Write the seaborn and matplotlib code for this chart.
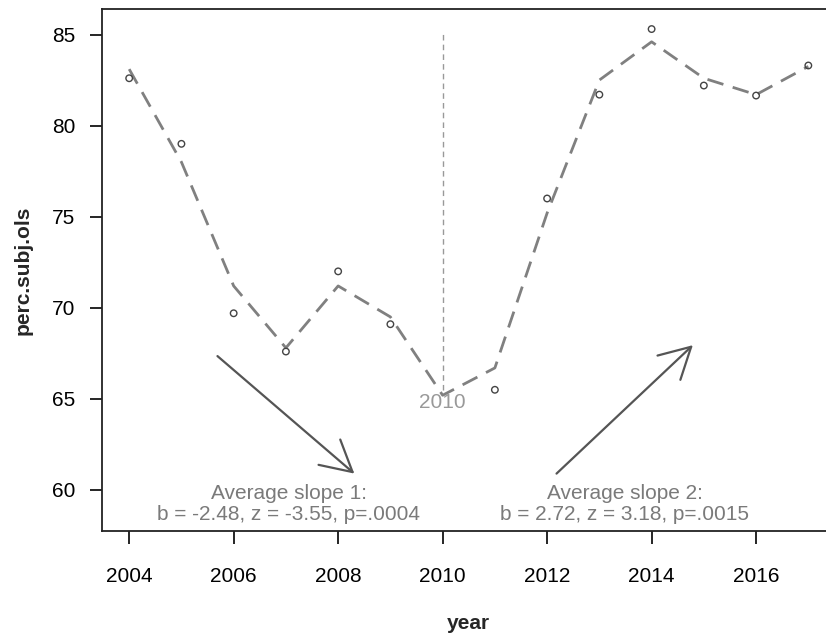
from matplotlib import pyplot as plt
import numpy as np
import pandas as pd
import seaborn as sns

# observed values (no observation drawn at 2010)
obs_year = [2004, 2005, 2006, 2007, 2008, 2009, 2011, 2012, 2013, 2014, 2015, 2016, 2017]
obs_value = [82.6, 79.0, 69.7, 67.6, 72.0, 69.1, 65.5, 76.0, 81.7, 85.3, 82.2, 81.65, 83.3]

# fitted values (dashed line)
fit_year = [2004, 2005, 2006, 2007, 2008, 2009, 2010, 2011, 2012, 2013, 2014, 2015, 2016, 2017]
fit_value = [83.1, 78.0, 71.2, 67.8, 71.2, 69.5, 65.2, 66.7, 75.2, 82.5, 84.6, 82.6, 81.7, 83.25]

x_ticks = [2004, 2006, 2008, 2010, 2012, 2014, 2016]
y_ticks = [60, 65, 70, 75, 80, 85]

break_year = 2010
slope1_text = "Average slope 1:\nb = -2.48, z = -3.55, p=.0004"
slope2_text = "Average slope 2:\nb = 2.72, z = 3.18, p=.0015"

obs = pd.DataFrame({'year': obs_year, 'perc.subj.ols': obs_value})
fit = pd.DataFrame({'year': fit_year, 'fitted': fit_value})

sns.set_style("ticks")
plt.rcParams['font.family'] = ['Liberation Sans', 'DejaVu Sans']

fig = plt.figure(figsize=(8.26, 6.35), dpi=100)
ax = fig.add_axes([0.1235, 0.1638, 0.888, 0.822])

# fitted dashed line
sns.lineplot(data=fit, x='year', y='fitted', ax=ax, color='#808080',
             linewidth=2, dashes=False, linestyle=(0, (6, 3.5)))

# observed points
sns.scatterplot(data=obs, x='year', y='perc.subj.ols', ax=ax, s=22,
                facecolor='none', edgecolor='#444444', linewidth=1, zorder=3)

# break line at 2010
ax.plot([break_year, break_year], [65.5, 85.2], color='#999999',
        linewidth=1, linestyle=(0, (4, 3)))
ax.text(break_year, 64.8, str(break_year), color='#999999', fontsize=15,
        ha='center', va='center')

# arrows
arrow_kw = dict(arrowstyle='->,head_length=1.1,head_width=0.6',
                color='#555555', lw=1.6, mutation_scale=20, shrinkA=0, shrinkB=0)
ax.annotate('', xy=(2008.31, 60.9), xytext=(2005.69, 67.35), arrowprops=arrow_kw)
ax.annotate('', xy=(2014.79, 67.95), xytext=(2012.18, 60.9), arrowprops=arrow_kw)

ax.text(2007.05, 59.25, slope1_text, color='#7a7a7a', fontsize=15,
        ha='center', va='center', linespacing=1.15)
ax.text(2013.48, 59.25, slope2_text, color='#7a7a7a', fontsize=15,
        ha='center', va='center', linespacing=1.15)

ax.set_xlim(2003.48, 2017.52)
ax.set_ylim(57.75, 86.4)
ax.set_xticks(x_ticks)
ax.set_yticks(y_ticks)
ax.tick_params(labelsize=15, length=9, width=1.2, colors='black')
ax.tick_params(axis='x', pad=17)
ax.tick_params(axis='y', pad=10)
for s in ax.spines.values():
    s.set_linewidth(1.3)
    s.set_color('#222222')

ax.set_xlabel('year', fontsize=15, fontweight='bold', labelpad=20)
ax.set_ylabel('perc.subj.ols', fontsize=15, fontweight='bold', labelpad=14)

fig.savefig('out.png', dpi=100)
